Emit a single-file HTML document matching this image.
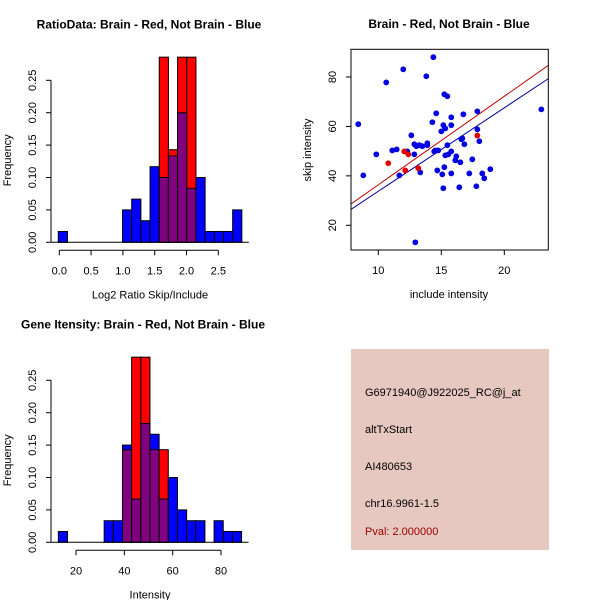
<!DOCTYPE html>
<html><head><meta charset="utf-8">
<style>
html,body{margin:0;padding:0;background:#fff;}
svg text{font-family:"Liberation Sans",sans-serif;fill:#000;}
</style></head>
<body>
<svg id="chart" width="600" height="600" xmlns="http://www.w3.org/2000/svg">
<g id="p1"></g>
<g id="p2"></g>
<g id="p3"></g>
<g id="p4">
<rect x="351" y="349" width="198" height="201" fill="#e6c8c1"/>
<text x="365" y="396" font-size="11">G6971940@J922025_RC@j_at</text>
<text x="365" y="433" font-size="11">altTxStart</text>
<text x="365" y="470" font-size="11">AI480653</text>
<text x="365" y="507" font-size="11">chr16.9961-1.5</text>
<text x="365" y="535" font-size="11" style="fill:#a00000">Pval: 2.000000</text>
</g>
</svg>
<script>
// ---- Histogram 1 data (RatioData) ----
const h1Start = -0.016;
const h1Width = 0.1443;
const h1Blue = [0.0167,0,0,0,0,0,0,0.05,0.0667,0.0333,0.1167,0.1,0.1333,0.2,0.0833,0.1,0.0167,0.0167,0.0167,0.05];
const h1Red  = [0,0,0,0,0,0,0,0,0,0,0,0.2857,0.1429,0.2857,0.2857,0,0,0,0,0];
const h1XTicks = [0,0.5,1.0,1.5,2.0,2.5];
const h1XTickLabels = ["0.0","0.5","1.0","1.5","2.0","2.5"];
const freqTicks = [0,0.05,0.10,0.15,0.20,0.25];
const freqTickLabels = ["0.00","0.05","0.10","0.15","0.20","0.25"];
// ---- Histogram 2 data (Intensity) ----
const h3Start = 12.7;
const h3Width = 3.79;
const h3Blue = [0.0167,0,0,0,0,0.0333,0.0333,0.15,0.0667,0.1833,0.1667,0.0667,0.1,0.05,0.0333,0.0333,0,0.0333,0.0167,0.0167];
const h3Red  = [0,0,0,0,0,0,0,0.1429,0.2857,0.2857,0.1429,0.1429,0,0,0,0,0,0,0,0];
const h3XTicks = [20,40,60,80];
const h3XTickLabels = ["20","40","60","80"];
// ---- Scatter data ----
const blueX = [8.41,8.81,9.84,10.63,11.11,11.46,11.67,11.98,12.30,12.62,12.86,12.86,12.94,13.02,13.25,13.33,13.49,13.81,13.89,13.89,14.29,14.37,14.44,14.52,14.60,14.68,14.76,15.0,15.08,15.16,15.16,15.24,15.24,15.32,15.32,15.48,15.48,15.56,15.79,15.79,15.79,15.79,16.11,16.19,16.43,16.51,16.59,16.67,16.75,16.83,17.22,17.46,17.78,17.86,17.86,18.02,18.25,18.41,18.89,22.94];
const blueY = [60.9,40.2,48.7,77.8,50.3,50.7,40.2,83.1,49.9,56.4,48.7,52.8,13.1,52.0,52.4,41.4,52.0,80.3,53.2,52.4,61.7,88.0,49.9,50.3,65.3,42.2,50.3,58.0,40.6,60.5,35.0,73.0,43.5,59.2,48.3,72.2,52.4,48.7,63.7,60.5,49.9,41.0,46.3,47.9,35.4,45.5,54.8,55.2,64.9,52.8,41.0,46.7,35.8,66.1,58.8,54.0,41.0,39.0,42.7,66.9];
const redX = [10.79,12.06,12.14,12.38,13.17,17.86];
const redY = [45.1,49.9,42.2,48.7,43.1,56.3];
const fitIntercept = [0.59, 0.0];   // red, blue
const fitSlope = [3.58, 3.376];
const fitColors = ["#c00000","#0000a0"];
const scXTicks = [10,15,20];
const scYTicks = [20,40,60,80];

const NS = "http://www.w3.org/2000/svg";
function mk(parent, tag, attrs){
  const e = document.createElementNS(NS, tag);
  for (const k in attrs) e.setAttribute(k, attrs[k]);
  parent.appendChild(e);
  return e;
}

function drawHist(g, o){
  const xs = v => o.x0px + (v - o.x0val) * o.xs;
  const ys = v => o.y0px - v * o.ys;
  const n = o.blue.length;
  for (let i=0;i<n;i++){
    const l = xs(o.start + i*o.width), r = xs(o.start + (i+1)*o.width);
    const b = o.blue[i], rd = o.red[i];
    const mx = Math.max(b, rd), mn = Math.min(b, rd);
    if (mx <= 0) continue;
    const top = mx, col = b >= rd ? "#0000ff" : "#ff0000";
    let e = mk(g,"rect",{x:l,y:ys(top),width:r-l,height:ys(0)-ys(top),fill:col,stroke:"#000","stroke-width":1});
    
    
    if (mn > 0){
      e = mk(g,"rect",{x:l,y:ys(mn),width:r-l,height:ys(0)-ys(mn),fill:"#80007f",stroke:"#000","stroke-width":1});
      
      
    }
  }
  const ax = mk(g,"line",{x1:xs(o.xt[0]),x2:xs(o.xt[o.xt.length-1]),y1:o.y0px+8,y2:o.y0px+8,stroke:"#000"});
  
  
  o.xt.forEach((t,i)=>{
    mk(g,"line",{x1:xs(t),x2:xs(t),y1:o.y0px+8,y2:o.y0px+13,stroke:"#000"});
    const tx = mk(g,"text",{x:xs(t),y:o.y0px+32,"font-size":11,"text-anchor":"middle"});
    tx.textContent = o.xl[i];
    
    
  });
  mk(g,"line",{x1:xs(o.start)-7,x2:xs(o.start+n*o.width)+7,y1:o.y0px,y2:o.y0px,stroke:"#000"});
  const ay = mk(g,"line",{x1:51,x2:51,y1:ys(0),y2:ys(0.25),stroke:"#000"});
  
  
  freqTicks.forEach((t,i)=>{
    mk(g,"line",{x1:46,x2:51,y1:ys(t),y2:ys(t),stroke:"#000"});
    const tx = mk(g,"text",{x:0,y:0,"font-size":11,"text-anchor":"middle",transform:`translate(36,${ys(t)}) rotate(-90)`});
    tx.textContent = freqTickLabels[i];
    
    
  });
  const yl = mk(g,"text",{x:0,y:0,"font-size":11,"text-anchor":"middle",transform:`translate(11,${o.y0px-82}) rotate(-90)`});
  yl.textContent = "Frequency";
  
  
  const xl = mk(g,"text",{x:150,y:o.y0px+56,"font-size":11,"text-anchor":"middle"});
  xl.textContent = o.xtitle;
  
  
  const ti = mk(g,"text",{x:o.tx,y:o.y0px-214,"font-size":12,"font-weight":"bold","text-anchor":"middle"});
  ti.textContent = o.title;
  
  
}

drawHist(document.getElementById("p1"), {x0px:59.3,x0val:0,xs:63.6,y0px:242.3,ys:648,start:h1Start,width:h1Width,blue:h1Blue,red:h1Red,xt:h1XTicks,xl:h1XTickLabels,xtitle:"Log2 Ratio Skip/Include",title:"RatioData: Brain - Red, Not Brain - Blue",tx:149});
drawHist(document.getElementById("p3"), {x0px:76,x0val:20,xs:2.417,y0px:542.3,ys:648,start:h3Start,width:h3Width,blue:h3Blue,red:h3Red,xt:h3XTicks,xl:h3XTickLabels,xtitle:"Intensity",title:"Gene Itensity: Brain - Red, Not Brain - Blue",tx:143});

(function(){
  const g = document.getElementById("p2");
  const L=351,R=548.3,T=49.3,B=250;
  const xs = v => 378.3 + (v-10)*12.6;
  const ys = v => 225.3 - (v-20)*2.472;
  const clip = mk(g,"clipPath",{id:"scClip"});
  mk(clip,"rect",{x:L,y:T,width:R-L,height:B-T});
  fitSlope.forEach((s,i)=>{
    const x1=7, x2=25;
    const ln = mk(g,"line",{x1:xs(x1),y1:ys(fitIntercept[i]+s*x1),x2:xs(x2),y2:ys(fitIntercept[i]+s*x2),stroke:fitColors[i],"stroke-width":1,"clip-path":"url(#scClip)"});
    
    
  });
  blueX.forEach((x,i)=>{
    const c = mk(g,"circle",{cx:xs(x),cy:ys(blueY[i]),r:2.9,fill:"#0000e0"});
    
    
  });
  redX.forEach((x,i)=>{
    const c = mk(g,"circle",{cx:xs(x),cy:ys(redY[i]),r:2.9,fill:"#e00000"});
    
    
  });
  const box = mk(g,"rect",{x:L,y:T,width:R-L,height:B-T,fill:"none",stroke:"#000"});
  
  
  scXTicks.forEach(t=>{
    mk(g,"line",{x1:xs(t),x2:xs(t),y1:B,y2:B+5,stroke:"#000"});
    const tx = mk(g,"text",{x:xs(t),y:B+24,"font-size":11,"text-anchor":"middle"});
    tx.textContent = String(t);
    
    
  });
  scYTicks.forEach(t=>{
    mk(g,"line",{x1:L-5,x2:L,y1:ys(t),y2:ys(t),stroke:"#000"});
    const tx = mk(g,"text",{x:0,y:0,"font-size":11,"text-anchor":"middle",transform:`translate(336,${ys(t)}) rotate(-90)`});
    tx.textContent = String(t);
    
    
  });
  const xl = mk(g,"text",{x:449,y:298,"font-size":11,"text-anchor":"middle"});
  xl.textContent = "include intensity";
  
  
  const yl = mk(g,"text",{x:0,y:0,"font-size":11,"text-anchor":"middle",transform:"translate(311,150) rotate(-90)"});
  yl.textContent = "skip intensity";
  
  
  const ti = mk(g,"text",{x:449,y:28,"font-size":12,"font-weight":"bold","text-anchor":"middle"});
  ti.textContent = "Brain - Red, Not Brain - Blue";
  
  
})();
</script>
</body></html>
